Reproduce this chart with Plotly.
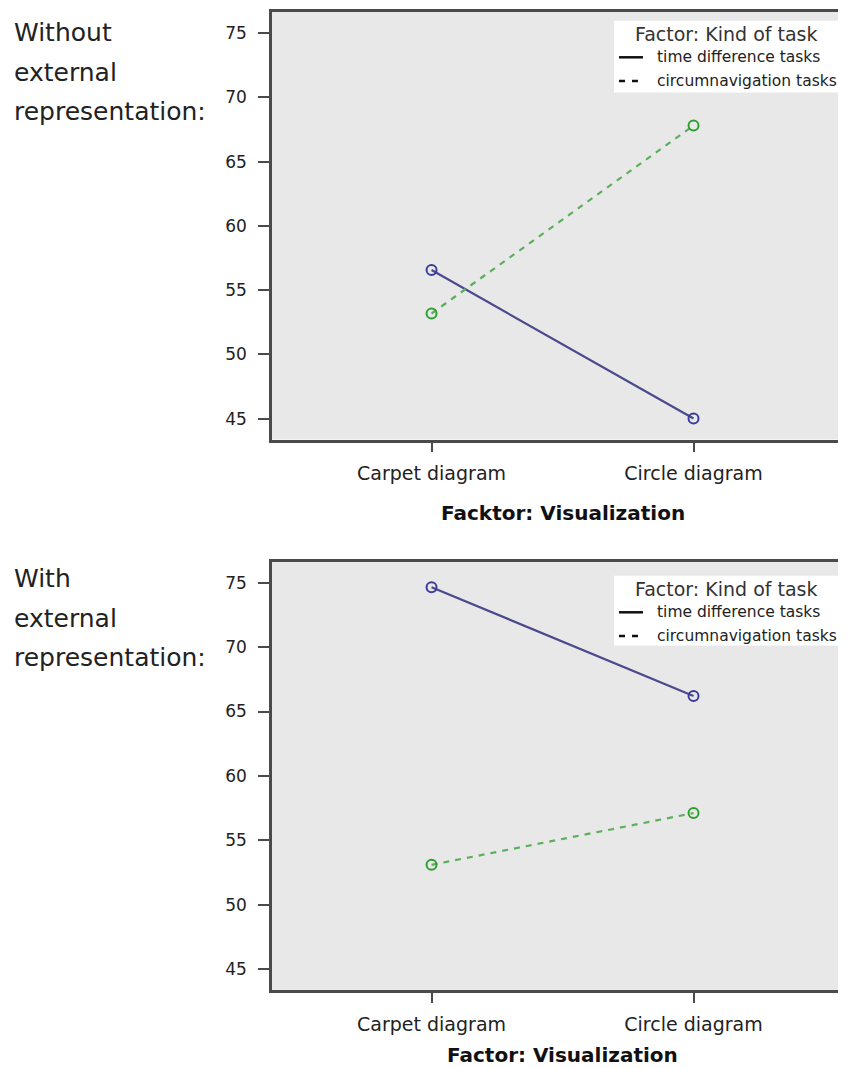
import plotly.graph_objects as go

# ---- data ----
categories = ["Carpet diagram", "Circle diagram"]
series_names = ["time difference tasks", "circumnavigation tasks"]
without_time = [56.56, 45.0]
without_circ = [53.18, 67.81]
with_time = [74.65, 66.21]
with_circ = [53.09, 57.11]
y_ticks = [45, 50, 55, 60, 65, 70, 75]
panel_labels = [["Without", "external", "representation:"],
                ["With", "external", "representation:"]]
x_titles = ["Facktor: Visualization", "Factor: Visualization"]
legend_title = "Factor: Kind of task"

# the page body has an 8px margin; work in reference-screen pixels
OFF = 8
W, H = 846 - OFF, 1068 - OFF
def py(p):
    return 1 - (p - OFF) / H
def px(p):
    return (p - OFF) / W

BLUE_LINE = "#4a4a8c"
BLUE_MK = "#3c3c9c"
GREEN_LINE = "#5cb05c"
GREEN_MK = "#2ea02e"
AXIS = "#4a4a4a"
FONT = "DejaVu Sans"

fig = go.Figure()
panels = [(without_time, without_circ, "x", "y"), (with_time, with_circ, "x2", "y2")]
for t_vals, c_vals, xa, ya in panels:
    fig.add_trace(go.Scatter(x=categories, y=t_vals, xaxis=xa, yaxis=ya, mode="lines+markers",
                             name=series_names[0], showlegend=False,
                             line=dict(color=BLUE_LINE, width=2.2),
                             marker=dict(symbol="circle-open", size=10, color=BLUE_MK,
                                         line=dict(width=2, color=BLUE_MK))))
    fig.add_trace(go.Scatter(x=categories, y=c_vals, xaxis=xa, yaxis=ya, mode="lines+markers",
                             name=series_names[1], showlegend=False,
                             line=dict(color=GREEN_LINE, width=2.2, dash="6px,6px"),
                             marker=dict(symbol="circle-open", size=10, color=GREEN_MK,
                                         line=dict(width=2, color=GREEN_MK))))

xr = [-0.609, 1.582]
yr = [43.37, 76.65]
common_x = dict(range=xr, showline=True, mirror=True, linecolor=AXIS, linewidth=2.5,
                ticks="outside", ticklen=10, tickwidth=2, tickcolor=AXIS,
                tickfont=dict(family=FONT, size=19, color="#222"),
                ticklabelstandoff=5, showgrid=False, zeroline=False,
                domain=[px(272), 1])
common_y = dict(range=yr, showline=True, mirror=False, linecolor=AXIS, linewidth=2.5,
                ticks="outside", ticklen=11, tickwidth=2, tickcolor=AXIS,
                tickvals=y_ticks, tickfont=dict(family=FONT, size=17, color="#222"),
                ticklabelstandoff=8, showgrid=False, zeroline=False)

fig.update_layout(
    width=W, height=H, margin=dict(l=0, r=0, t=0, b=0),
    paper_bgcolor="white", plot_bgcolor="#e8e8e8",
    xaxis=dict(**common_x, anchor="y"),
    yaxis=dict(**common_y, anchor="x", domain=[py(439.5), py(12)]),
    xaxis2=dict(**common_x, anchor="y2"),
    yaxis2=dict(**common_y, anchor="x2", domain=[py(990), py(561.5)]),
)

shapes = []
annotations = []
label_offsets = [0, 546]
baselines = [41.7, 81.7, 120.0]
title_y = [513, 1055]
legend_offsets = [0, 555]
for i in range(2):
    off = label_offsets[i]
    # left labels
    for j, txt in enumerate(panel_labels[i]):
        annotations.append(dict(text=txt, x=px(12), y=py(baselines[j] + off - 9),
                                xref="paper", yref="paper", xanchor="left", yanchor="middle",
                                showarrow=False, font=dict(family=FONT, size=25, color="#222")))
    # x axis title
    annotations.append(dict(text="<b>" + x_titles[i] + "</b>", x=0.5, y=py(title_y[i]),
                            xref="x" if i == 0 else "x2", yref="paper",
                            xanchor="center", yanchor="middle", showarrow=False,
                            font=dict(family=FONT, size=20, color="#111")))
    # legend box
    lo = legend_offsets[i]
    shapes.append(dict(type="rect", xref="paper", yref="paper",
                       x0=px(614), x1=px(841), y0=py(92.5 + lo - (2 if i else 0)), y1=py(20.7 + lo),
                       fillcolor="white", line=dict(width=0), layer="above"))
    annotations.append(dict(text=legend_title, x=px(726), y=py(34.3 + lo), xref="paper", yref="paper",
                            xanchor="center", yanchor="middle", showarrow=False,
                            font=dict(family=FONT, size=19, color="#333")))
    # legend entry 1 (solid)
    shapes.append(dict(type="line", xref="paper", yref="paper",
                       x0=px(619), x1=px(643), y0=py(57.3 + lo), y1=py(57.3 + lo),
                       line=dict(color="#111", width=2.5), layer="above"))
    annotations.append(dict(text=series_names[0], x=px(655), y=py(57.3 + lo), xref="paper", yref="paper",
                            xanchor="left", yanchor="middle", showarrow=False,
                            font=dict(family=FONT, size=15.5, color="#222")))
    # legend entry 2 (dashed)
    for d0, d1 in [(619, 625), (632, 638)]:
        shapes.append(dict(type="line", xref="paper", yref="paper",
                           x0=px(d0), x1=px(d1), y0=py(81 + lo), y1=py(81 + lo),
                           line=dict(color="#111", width=2.5), layer="above"))
    annotations.append(dict(text=series_names[1], x=px(655), y=py(81 + lo), xref="paper", yref="paper",
                            xanchor="left", yanchor="middle", showarrow=False,
                            font=dict(family=FONT, size=15.5, color="#222")))

fig.update_layout(shapes=shapes, annotations=annotations)
fig.write_html("out.html")
